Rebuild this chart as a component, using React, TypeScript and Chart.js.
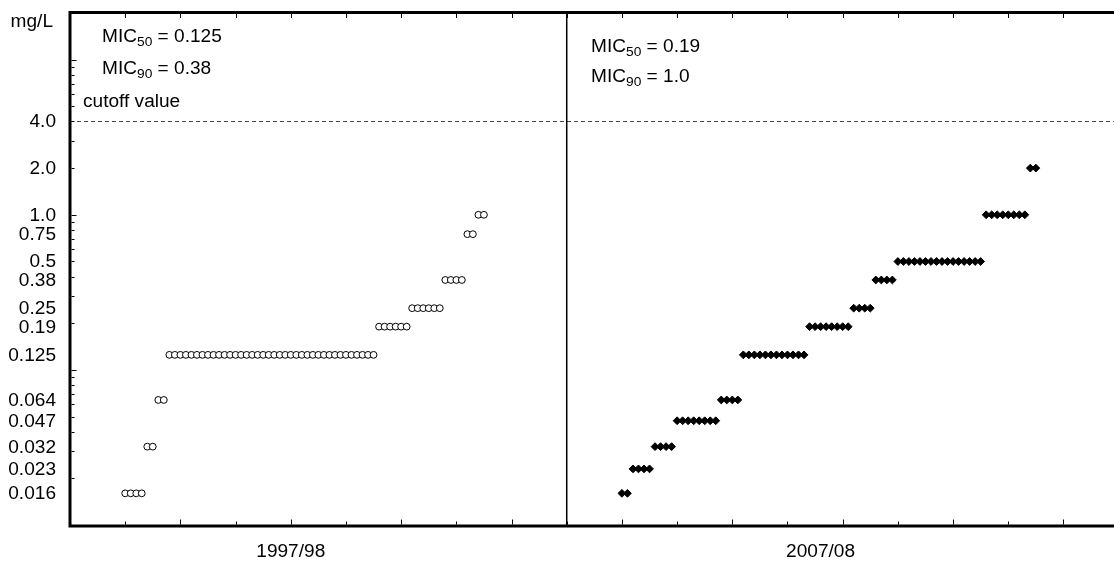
import React, { useEffect, useRef } from 'react';
import { Chart, registerables } from 'chart.js';

Chart.register(...registerables);

// ---------- data ----------
const micLevels = [0.016, 0.023, 0.032, 0.047, 0.064, 0.125, 0.19, 0.25, 0.38, 0.5, 0.75, 1.0, 2.0];
const counts1997 = [4, 0, 2, 0, 2, 38, 6, 6, 4, 0, 2, 2, 0];
const counts2007 = [2, 4, 4, 8, 4, 12, 8, 4, 4, 16, 0, 8, 2];
const periods = ['1997/98', '2007/08'];
const periodFirstIsolate = [10, 100];
const periodLabelX = [40, 136];
const panelDividerX = 90;
const mic50 = ['0.125', '0.19'];
const mic90 = ['0.38', '1.0'];
const cutoffValue = 4.0;
const cutoffLabel = 'cutoff value';
const yUnit = 'mg/L';
const yTickValues = [4, 2, 1, 0.75, 0.5, 0.38, 0.25, 0.19, 0.125, 0.064, 0.047, 0.032, 0.023, 0.016];
const yTickLabels = ['4.0', '2.0', '1.0', '0.75', '0.5', '0.38', '0.25', '0.19', '0.125', '0.064', '0.047', '0.032', '0.023', '0.016'];
const xTickValues = [10, 20, 30, 40, 50, 60, 70, 80, 90, 100, 110, 120, 130, 140, 150, 160, 170, 180];
const yMinorTickValues = [
  0.02, 0.03, 0.04, 0.05, 0.06, 0.07, 0.08, 0.09, 0.1,
  0.2, 0.3, 0.4, 0.5, 0.6, 0.7, 0.8, 0.9, 1,
  2, 3, 4, 5, 6, 7, 8, 9, 10,
];

const X_MIN = 0;
const X_MAX = 189.16;
const Y_MIN = 0.01;
const Y_MAX = 20;

function buildPoints(counts: number[], first: number) {
  const pts: { x: number; y: number }[] = [];
  let idx = first;
  counts.forEach((c, i) => {
    for (let k = 0; k < c; k++) {
      pts.push({ x: idx, y: micLevels[i] });
      idx++;
    }
  });
  return pts;
}

const FONT = '"Liberation Sans", Arial, Helvetica, sans-serif';
const SX = 1.06;
const FS = 18;

function drawText(
  ctx: CanvasRenderingContext2D,
  text: string,
  x: number,
  y: number,
  align: 'left' | 'right' | 'center',
  size: number,
  baseline: CanvasTextBaseline = 'alphabetic'
) {
  ctx.save();
  ctx.font = `${size}px ${FONT}`;
  const w = ctx.measureText(text).width * SX;
  const x0 = align === 'left' ? x : align === 'right' ? x - w : x - w / 2;
  ctx.translate(x0, y);
  ctx.scale(SX, 1);
  ctx.textAlign = 'left';
  ctx.textBaseline = baseline;
  ctx.fillStyle = '#000';
  ctx.fillText(text, 0, 0);
  ctx.restore();
  return w;
}

function drawMic(ctx: CanvasRenderingContext2D, sub: string, value: string, x: number, y: number) {
  let cx = x;
  cx += drawText(ctx, 'MIC', cx, y, 'left', FS);
  cx += drawText(ctx, sub, cx, y + 4, 'left', 13);
  drawText(ctx, ' = ' + value, cx, y, 'left', FS);
}

const decorPlugin = {
  id: 'decor',
  beforeDatasetsDraw(chart: any) {
    const { ctx, chartArea } = chart;
    const xs = chart.scales.x;
    const ys = chart.scales.y;
    ctx.save();
    // cutoff dashed line
    const yc = Math.round(ys.getPixelForValue(cutoffValue)) + 0.5;
    ctx.strokeStyle = '#444';
    ctx.lineWidth = 1;
    ctx.setLineDash([4, 3]);
    ctx.beginPath();
    ctx.moveTo(chartArea.left, yc);
    ctx.lineTo(chartArea.right, yc);
    ctx.stroke();
    ctx.setLineDash([]);
    // panel divider
    const xd = xs.getPixelForValue(panelDividerX);
    ctx.strokeStyle = '#000';
    ctx.lineWidth = 1.5;
    ctx.beginPath();
    ctx.moveTo(xd, chartArea.top);
    ctx.lineTo(xd, chartArea.bottom);
    ctx.stroke();
    ctx.restore();
  },
  afterDatasetsDraw(chart: any) {
    const { ctx, chartArea } = chart;
    const xs = chart.scales.x;
    const ys = chart.scales.y;
    const L = chartArea.left;
    const R = chartArea.right;
    const T = chartArea.top;
    const B = chartArea.bottom;
    ctx.save();
    ctx.strokeStyle = '#000';
    // frame: left axis, top border, bottom axis
    ctx.lineWidth = 3;
    ctx.beginPath();
    ctx.moveTo(L, T - 2);
    ctx.lineTo(L, B + 2.5);
    ctx.moveTo(L - 1.5, T - 0.5);
    ctx.lineTo(R, T - 0.5);
    ctx.moveTo(L - 1.5, B + 1);
    ctx.lineTo(R, B + 1);
    ctx.stroke();
    // x ticks
    ctx.lineWidth = 1;
    ctx.beginPath();
    xTickValues.forEach((v) => {
      const px = Math.round(xs.getPixelForValue(v)) + 0.5;
      const len = v % 20 === 0 ? 5 : 3;
      ctx.moveTo(px, B - 0.5);
      ctx.lineTo(px, B - 0.5 - len);
      ctx.moveTo(px, T + 1);
      ctx.lineTo(px, T + 5);
    });
    // y minor ticks
    yMinorTickValues.forEach((v) => {
      const py = Math.round(ys.getPixelForValue(v)) + 0.5;
      const major = Math.abs(Math.log10(v) - Math.round(Math.log10(v))) < 1e-9;
      ctx.moveTo(L + 1.5, py);
      ctx.lineTo(L + 1.5 + (major ? 5 : 3), py);
    });
    ctx.stroke();
    ctx.restore();

    // y tick labels
    yTickValues.forEach((v, i) => {
      drawText(ctx, yTickLabels[i], 56, ys.getPixelForValue(v) + 1, 'right', FS, 'middle');
    });
    drawText(ctx, yUnit, 53, 27, 'right', FS);
    // period labels
    periods.forEach((p, i) => {
      drawText(ctx, p, xs.getPixelForValue(periodLabelX[i]), 557, 'center', FS);
    });
    // MIC annotations
    drawMic(ctx, '50', mic50[0], 102, 42);
    drawMic(ctx, '90', mic90[0], 102, 74);
    drawText(ctx, cutoffLabel, 83, 107, 'left', FS);
    drawMic(ctx, '50', mic50[1], 591, 52);
    drawMic(ctx, '90', mic90[1], 591, 82);
  },
};

export default function App() {
  const ref = useRef<HTMLCanvasElement | null>(null);
  useEffect(() => {
    if (!ref.current) return;
    const chart = new Chart(ref.current, {
      type: 'scatter',
      data: {
        datasets: [
          {
            label: periods[0],
            data: buildPoints(counts1997, periodFirstIsolate[0]),
            pointStyle: 'circle',
            pointRadius: 3.4,
            pointBorderWidth: 1,
            pointBorderColor: '#000',
            pointBackgroundColor: '#fff',
          },
          {
            label: periods[1],
            data: buildPoints(counts2007, periodFirstIsolate[1]),
            pointStyle: 'rectRot',
            pointRadius: 3.9,
            pointBorderWidth: 1,
            pointBorderColor: '#000',
            pointBackgroundColor: '#000',
          },
        ],
      },
      options: {
        responsive: false,
        animation: false,
        events: [],
        layout: { autoPadding: false, padding: { left: 70, top: 13, right: 0, bottom: 37 } },
        plugins: {
          legend: { display: false },
          tooltip: { enabled: false },
        },
        scales: {
          x: { type: 'linear', display: false, min: X_MIN, max: X_MAX },
          y: { type: 'logarithmic', display: false, min: Y_MIN, max: Y_MAX },
        },
      },
      plugins: [decorPlugin],
    });
    return () => chart.destroy();
  }, []);
  return (
    <div style={{ position: 'absolute', left: 0, top: 0, width: 1114, height: 562, background: '#fff' }}>
      <canvas ref={ref} width={1114} height={562} style={{ width: 1114, height: 562, display: 'block' }} />
    </div>
  );
}
